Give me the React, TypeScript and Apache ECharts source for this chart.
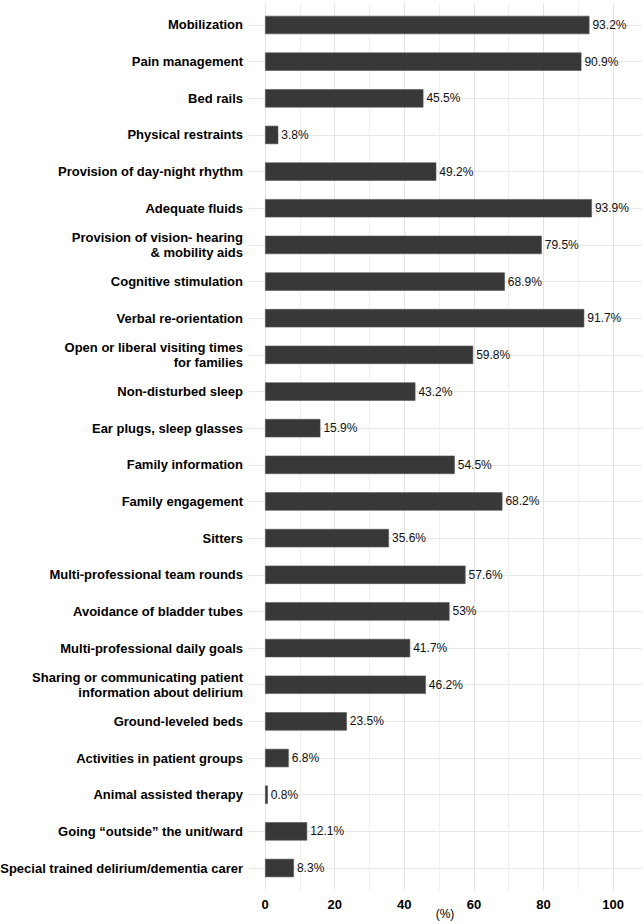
import React, { useEffect, useRef } from "react";
import * as echarts from "echarts";

const categories: string[] = [
  "Mobilization",
  "Pain management",
  "Bed rails",
  "Physical restraints",
  "Provision of day-night rhythm",
  "Adequate fluids",
  "Provision of vision- hearing\n& mobility aids",
  "Cognitive stimulation",
  "Verbal re-orientation",
  "Open or liberal visiting times\nfor families",
  "Non-disturbed sleep",
  "Ear plugs, sleep glasses",
  "Family information",
  "Family engagement",
  "Sitters",
  "Multi-professional team rounds",
  "Avoidance of bladder tubes",
  "Multi-professional daily goals",
  "Sharing or communicating patient\ninformation about delirium",
  "Ground-leveled beds",
  "Activities in patient groups",
  "Animal assisted therapy",
  "Going \u201coutside\u201d the unit/ward",
  "Special trained delirium/dementia carer",
];

const values: number[] = [
  93.2, 90.9, 45.5, 3.8, 49.2, 93.9, 79.5, 68.9, 91.7, 59.8, 43.2, 15.9, 54.5,
  68.2, 35.6, 57.6, 53, 41.7, 46.2, 23.5, 6.8, 0.8, 12.1, 8.3,
];

const xGridValues: number[] = [0, 10, 20, 30, 40, 50, 60, 70, 80, 90, 100];
const xTickLabels: number[] = [0, 20, 40, 60, 80, 100];
const xName = "(%)";

const FONT = "'Liberation Sans', Arial, Helvetica, sans-serif";

export default function App() {
  const ref = useRef<HTMLDivElement>(null);
  useEffect(() => {
    if (!ref.current) return;
    const chart = echarts.init(ref.current, null, { renderer: "svg" });
    const H = 924;
    const gridLeft = 248;
    const gridRight = 2;
    const gridTop = 3;
    const gridBottom = 34;
    const n = categories.length;
    const plotH = H - gridTop - gridBottom;
    const unit = plotH / (n - 1 + 1.2);
    const firstCenter = gridTop + 0.6 * unit;
    const barTop = firstCenter - unit / 2;
    const barBottom = H - (barTop + unit * n);
    const xMin = -4.9;
    const xMax = 108.3;
    const idx = categories.map((_, i) => i);

    chart.setOption({
      animation: false,
      backgroundColor: "#ffffff",
      textStyle: { fontFamily: FONT },
      grid: [
        {
          left: gridLeft,
          right: gridRight,
          top: gridTop,
          bottom: gridBottom,
          containLabel: false,
          outerBoundsMode: "none",
        },
        {
          left: gridLeft,
          right: gridRight,
          top: barTop,
          bottom: barBottom,
          containLabel: false,
          outerBoundsMode: "none",
        },
      ],
      xAxis: [
        {
          type: "value",
          gridIndex: 0,
          min: xMin,
          max: xMax,
          axisLine: { show: false },
          axisTick: { show: false, customValues: xGridValues },
          axisLabel: {
            customValues: xTickLabels,
            color: "#000",
            fontWeight: "bold",
            fontSize: 13,
            fontFamily: FONT,
            margin: 8,
          },
          splitLine: {
            show: true,
            lineStyle: { color: ["#e4e4e4", "#efefef"], width: 1 },
          },
          name: xName,
          nameLocation: "middle",
          nameGap: 18,
          nameMoveOverlap: false,
          nameTextStyle: {
            color: "#000",
            fontSize: 12,
            fontFamily: FONT,
            verticalAlign: "top",
          },
        },
        {
          type: "value",
          gridIndex: 1,
          min: xMin,
          max: xMax,
          show: false,
        },
      ],
      yAxis: [
        {
          type: "value",
          gridIndex: 0,
          inverse: true,
          min: -0.6,
          max: n - 1 + 0.6,
          axisLine: { show: false },
          axisTick: { show: false, customValues: idx },
          axisLabel: {
            customValues: idx,
            formatter: (v: number) => categories[Math.round(v)] ?? "",
            color: "#000",
            fontWeight: "bold",
            fontSize: 13,
            fontFamily: FONT,
            margin: 5,
            lineHeight: 15,
            align: "right",
          },
          splitLine: { show: true, lineStyle: { color: "#e8e8e8", width: 1 } },
        },
        {
          type: "category",
          gridIndex: 1,
          inverse: true,
          data: categories,
          show: false,
        },
      ],
      series: [
        {
          type: "bar",
          xAxisIndex: 1,
          yAxisIndex: 1,
          data: values,
          barWidth: "50%",
          itemStyle: { color: "#383838", borderColor: "#555555", borderWidth: 0.6 },
          label: {
            show: true,
            position: "right",
            distance: 3,
            formatter: (p: any) => `${p.value}%`,
            color: "#111",
            fontSize: 12,
            fontFamily: FONT,
          },
        },
      ],
    });
    return () => chart.dispose();
  }, []);
  return (
    <div
      ref={ref}
      style={{ position: "absolute", left: 0, top: 0, width: 644, height: 924 }}
    />
  );
}
